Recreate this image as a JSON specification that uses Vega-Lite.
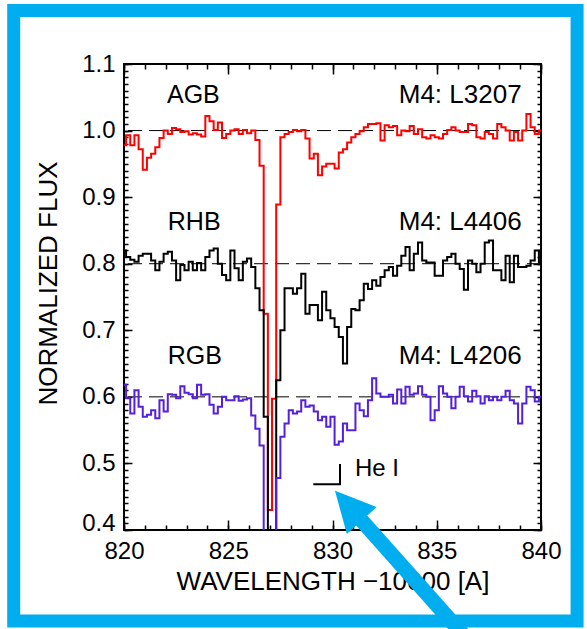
{
  "$schema": "https://vega.github.io/schema/vega-lite/v6.json",
  "width": 417,
  "height": 466,
  "autosize": {"type": "none"},
  "padding": {"left": 124, "top": 64, "right": 46, "bottom": 99},
  "background": "white",
  "config": {
    "view": {"stroke": "black", "strokeWidth": 2},
    "axis": {"grid": false, "domain": false, "labelFont": "Liberation Sans", "titleFont": "Liberation Sans", "labelColor": "black", "titleColor": "black", "tickColor": "black", "labelFontSize": 24, "titleFontSize": 26, "titleFontWeight": "normal", "tickWidth": 1.5}
  },
  "resolve": {"axis": {"x": "independent", "y": "independent"}},
  "datasets": {
    "agb": [{"w":820,"f":0.978},{"w":820.2,"f":0.993},{"w":820.4,"f":0.978},{"w":820.6,"f":0.993},{"w":820.8,"f":0.972},
{"w":821,"f":0.941},{"w":821.2,"f":0.959},{"w":821.4,"f":0.965},{"w":821.6,"f":0.975},{"w":821.8,"f":0.989},
{"w":822,"f":1.0},{"w":822.2,"f":0.995},{"w":822.4,"f":1.004},{"w":822.6,"f":1.002},{"w":822.8,"f":0.998},
{"w":823,"f":0.999},{"w":823.2,"f":0.994},{"w":823.4,"f":0.996},{"w":823.6,"f":0.994},{"w":823.8,"f":0.991},
{"w":824,"f":1.022},{"w":824.2,"f":1.014},{"w":824.4,"f":1.001},{"w":824.6,"f":1.012},{"w":824.8,"f":0.989},
{"w":825,"f":0.995},{"w":825.2,"f":1.0},{"w":825.4,"f":1.002},{"w":825.6,"f":0.995},{"w":825.8,"f":1.001},
{"w":826,"f":0.996},{"w":826.2,"f":1.0},{"w":826.4,"f":0.986},{"w":826.6,"f":0.947},{"w":826.8,"f":0.725},
{"w":827,"f":0.43},{"w":827.2,"f":0.597},{"w":827.4,"f":0.889},{"w":827.6,"f":0.99},{"w":827.8,"f":0.995},
{"w":828,"f":0.998},{"w":828.2,"f":1.001},{"w":828.4,"f":0.999},{"w":828.6,"f":1.001},{"w":828.8,"f":0.988},
{"w":829,"f":0.958},{"w":829.2,"f":0.965},{"w":829.4,"f":0.933},{"w":829.6,"f":0.946},{"w":829.8,"f":0.95},
{"w":830,"f":0.95},{"w":830.2,"f":0.943},{"w":830.4,"f":0.967},{"w":830.6,"f":0.972},{"w":830.8,"f":0.982},
{"w":831,"f":0.99},{"w":831.2,"f":0.995},{"w":831.4,"f":0.999},{"w":831.6,"f":1.005},{"w":831.8,"f":1.01},
{"w":832,"f":1.01},{"w":832.2,"f":1.011},{"w":832.4,"f":0.985},{"w":832.6,"f":1.008},{"w":832.8,"f":1.005},
{"w":833,"f":1.007},{"w":833.2,"f":0.993},{"w":833.4,"f":1.0},{"w":833.6,"f":0.999},{"w":833.8,"f":1.007},
{"w":834,"f":0.995},{"w":834.2,"f":1.002},{"w":834.4,"f":0.99},{"w":834.6,"f":0.988},{"w":834.8,"f":0.993},
{"w":835,"f":0.99},{"w":835.2,"f":0.988},{"w":835.4,"f":0.995},{"w":835.6,"f":1.001},{"w":835.8,"f":1.005},
{"w":836,"f":1.0},{"w":836.2,"f":0.998},{"w":836.4,"f":0.998},{"w":836.6,"f":1.01},{"w":836.8,"f":1.008},
{"w":837,"f":0.99},{"w":837.2,"f":0.988},{"w":837.4,"f":0.998},{"w":837.6,"f":0.995},{"w":837.8,"f":0.988},
{"w":838,"f":1.01},{"w":838.2,"f":1.005},{"w":838.4,"f":1.0},{"w":838.6,"f":0.985},{"w":838.8,"f":0.998},
{"w":839,"f":0.985},{"w":839.2,"f":1.0},{"w":839.4,"f":1.025},{"w":839.6,"f":1.005},{"w":839.8,"f":0.995},
{"w":840,"f":1.0}],
    "rhb": [{"w":820,"f":0.82},{"w":820.2,"f":0.81},{"w":820.4,"f":0.806},{"w":820.6,"f":0.803},{"w":820.8,"f":0.812},
{"w":821,"f":0.815},{"w":821.2,"f":0.815},{"w":821.4,"f":0.805},{"w":821.6,"f":0.79},{"w":821.8,"f":0.803},
{"w":822,"f":0.815},{"w":822.2,"f":0.818},{"w":822.4,"f":0.805},{"w":822.6,"f":0.775},{"w":822.8,"f":0.798},
{"w":823,"f":0.79},{"w":823.2,"f":0.803},{"w":823.4,"f":0.79},{"w":823.6,"f":0.801},{"w":823.8,"f":0.79},
{"w":824,"f":0.81},{"w":824.2,"f":0.82},{"w":824.4,"f":0.823},{"w":824.6,"f":0.8},{"w":824.8,"f":0.783},
{"w":825,"f":0.775},{"w":825.2,"f":0.82},{"w":825.4,"f":0.793},{"w":825.6,"f":0.775},{"w":825.8,"f":0.803},
{"w":826,"f":0.808},{"w":826.2,"f":0.795},{"w":826.4,"f":0.763},{"w":826.6,"f":0.73},{"w":826.8,"f":0.57},
{"w":827,"f":0.33},{"w":827.2,"f":0.35},{"w":827.4,"f":0.625},{"w":827.6,"f":0.7},{"w":827.8,"f":0.763},
{"w":828,"f":0.763},{"w":828.2,"f":0.755},{"w":828.4,"f":0.763},{"w":828.6,"f":0.785},{"w":828.8,"f":0.725},
{"w":829,"f":0.738},{"w":829.2,"f":0.738},{"w":829.4,"f":0.715},{"w":829.6,"f":0.758},{"w":829.8,"f":0.73},
{"w":830,"f":0.718},{"w":830.2,"f":0.705},{"w":830.4,"f":0.69},{"w":830.6,"f":0.65},{"w":830.8,"f":0.705},
{"w":831,"f":0.732},{"w":831.2,"f":0.73},{"w":831.4,"f":0.745},{"w":831.6,"f":0.77},{"w":831.8,"f":0.762},
{"w":832,"f":0.775},{"w":832.2,"f":0.767},{"w":832.4,"f":0.78},{"w":832.6,"f":0.79},{"w":832.8,"f":0.795},
{"w":833,"f":0.782},{"w":833.2,"f":0.797},{"w":833.4,"f":0.812},{"w":833.6,"f":0.825},{"w":833.8,"f":0.79},
{"w":834,"f":0.815},{"w":834.2,"f":0.832},{"w":834.4,"f":0.805},{"w":834.6,"f":0.802},{"w":834.8,"f":0.802},
{"w":835,"f":0.782},{"w":835.2,"f":0.782},{"w":835.4,"f":0.805},{"w":835.6,"f":0.81},{"w":835.8,"f":0.815},
{"w":836,"f":0.8},{"w":836.2,"f":0.792},{"w":836.4,"f":0.761},{"w":836.6,"f":0.805},{"w":836.8,"f":0.8},
{"w":837,"f":0.787},{"w":837.2,"f":0.8},{"w":837.4,"f":0.832},{"w":837.6,"f":0.835},{"w":837.8,"f":0.79},
{"w":838,"f":0.79},{"w":838.2,"f":0.775},{"w":838.4,"f":0.812},{"w":838.6,"f":0.772},{"w":838.8,"f":0.812},
{"w":839,"f":0.795},{"w":839.2,"f":0.795},{"w":839.4,"f":0.797},{"w":839.6,"f":0.805},{"w":839.8,"f":0.82},
{"w":840,"f":0.802}],
    "rgb": [{"w":820,"f":0.618},{"w":820.2,"f":0.598},{"w":820.4,"f":0.575},{"w":820.6,"f":0.61},{"w":820.8,"f":0.585},
{"w":821,"f":0.57},{"w":821.2,"f":0.573},{"w":821.4,"f":0.58},{"w":821.6,"f":0.568},{"w":821.8,"f":0.595},
{"w":822,"f":0.578},{"w":822.2,"f":0.604},{"w":822.4,"f":0.603},{"w":822.6,"f":0.598},{"w":822.8,"f":0.616},
{"w":823,"f":0.606},{"w":823.2,"f":0.604},{"w":823.4,"f":0.598},{"w":823.6,"f":0.618},{"w":823.8,"f":0.603},
{"w":824,"f":0.604},{"w":824.2,"f":0.588},{"w":824.4,"f":0.575},{"w":824.6,"f":0.585},{"w":824.8,"f":0.6},
{"w":825,"f":0.595},{"w":825.2,"f":0.595},{"w":825.4,"f":0.601},{"w":825.6,"f":0.594},{"w":825.8,"f":0.596},
{"w":826,"f":0.598},{"w":826.2,"f":0.572},{"w":826.4,"f":0.552},{"w":826.6,"f":0.527},{"w":826.8,"f":0.3},
{"w":827,"f":0.3},{"w":827.2,"f":0.3},{"w":827.4,"f":0.478},{"w":827.6,"f":0.54},{"w":827.8,"f":0.56},
{"w":828,"f":0.58},{"w":828.2,"f":0.575},{"w":828.4,"f":0.578},{"w":828.6,"f":0.595},{"w":828.8,"f":0.585},
{"w":829,"f":0.587},{"w":829.2,"f":0.578},{"w":829.4,"f":0.565},{"w":829.6,"f":0.57},{"w":829.8,"f":0.555},
{"w":830,"f":0.57},{"w":830.2,"f":0.528},{"w":830.4,"f":0.533},{"w":830.6,"f":0.56},{"w":830.8,"f":0.55},
{"w":831,"f":0.55},{"w":831.2,"f":0.59},{"w":831.4,"f":0.58},{"w":831.6,"f":0.571},{"w":831.8,"f":0.595},
{"w":832,"f":0.628},{"w":832.2,"f":0.605},{"w":832.4,"f":0.6},{"w":832.6,"f":0.6},{"w":832.8,"f":0.603},
{"w":833,"f":0.59},{"w":833.2,"f":0.611},{"w":833.4,"f":0.59},{"w":833.6,"f":0.615},{"w":833.8,"f":0.603},
{"w":834,"f":0.605},{"w":834.2,"f":0.616},{"w":834.4,"f":0.603},{"w":834.6,"f":0.6},{"w":834.8,"f":0.565},
{"w":835,"f":0.58},{"w":835.2,"f":0.616},{"w":835.4,"f":0.605},{"w":835.6,"f":0.6},{"w":835.8,"f":0.583},
{"w":836,"f":0.6},{"w":836.2,"f":0.615},{"w":836.4,"f":0.601},{"w":836.6,"f":0.593},{"w":836.8,"f":0.609},
{"w":837,"f":0.601},{"w":837.2,"f":0.59},{"w":837.4,"f":0.601},{"w":837.6,"f":0.595},{"w":837.8,"f":0.6},
{"w":838,"f":0.595},{"w":838.2,"f":0.6},{"w":838.4,"f":0.609},{"w":838.6,"f":0.595},{"w":838.8,"f":0.59},
{"w":839,"f":0.56},{"w":839.2,"f":0.59},{"w":839.4,"f":0.615},{"w":839.6,"f":0.61},{"w":839.8,"f":0.593},
{"w":840,"f":0.6}]
  },
  "layer": [
    {
      "data": {"values": [{"x1": 814.71, "x2": 841.73, "y1": 1.1804, "y2": 0.2633}]},
      "mark": {"type": "rect", "fill": "white", "fillOpacity": 0, "stroke": "#00aeef", "strokeWidth": 13, "clip": false},
      "encoding": {
        "x": {"field": "x1", "type": "quantitative", "scale": {"domain": [820, 840], "nice": false, "zero": false}, "axis": null},
        "x2": {"field": "x2"},
        "y": {"field": "y1", "type": "quantitative", "scale": {"domain": [0.4, 1.1], "nice": false, "zero": false}, "axis": null},
        "y2": {"field": "y2"}
      }
    },
    {
      "data": {"values": [{"f": 1.0}, {"f": 0.8}, {"f": 0.6}]},
      "mark": {"type": "rule", "strokeDash": [14, 7], "color": "black", "strokeWidth": 1},
      "encoding": {
        "y": {"field": "f", "type": "quantitative", "scale": {"domain": [0.4, 1.1], "nice": false, "zero": false}, "axis": null}
      }
    },
    {
      "data": {"name": "agb"},
      "mark": {"type": "line", "interpolate": "step", "color": "#ff0000", "strokeWidth": 2, "clip": true},
      "encoding": {
        "x": {"field": "w", "type": "quantitative", "scale": {"domain": [820, 840], "nice": false, "zero": false},
              "axis": {"orient": "bottom", "values": [820, 825, 830, 835, 840], "format": "d", "ticks": false, "labelPadding": 9, "labelFlush": false, "title": "WAVELENGTH −10000 [A]", "titlePadding": 5}},
        "y": {"field": "f", "type": "quantitative", "scale": {"domain": [0.4, 1.1], "nice": false, "zero": false},
              "axis": {"orient": "left", "values": [0.4, 0.5, 0.6, 0.7, 0.8, 0.9, 1.0, 1.1], "format": ".1f", "ticks": false, "labelPadding": 9, "labelBaseline": {"condition": {"test": "datum.value < 0.45", "value": "alphabetic"}, "value": "middle"}, "title": "NORMALIZED FLUX", "titlePadding": 20, "titleY": 219}}
      }
    },
    {
      "data": {"name": "rhb"},
      "mark": {"type": "line", "interpolate": "step", "color": "black", "strokeWidth": 2, "clip": true},
      "encoding": {
        "x": {"field": "w", "type": "quantitative", "scale": {"domain": [820, 840], "nice": false, "zero": false},
              "axis": {"orient": "bottom", "values": [820, 825, 830, 835, 840], "labels": false, "tickSize": -10, "title": null}},
        "y": {"field": "f", "type": "quantitative", "scale": {"domain": [0.4, 1.1], "nice": false, "zero": false},
              "axis": {"orient": "left", "values": [0.4, 0.5, 0.6, 0.7, 0.8, 0.9, 1.0, 1.1], "labels": false, "tickSize": -8, "title": null}}
      }
    },
    {
      "data": {"name": "rgb"},
      "mark": {"type": "line", "interpolate": "step", "color": "#5520dd", "strokeWidth": 2, "clip": true},
      "encoding": {
        "x": {"field": "w", "type": "quantitative", "scale": {"domain": [820, 840], "nice": false, "zero": false},
              "axis": {"orient": "bottom", "values": [820,821,822,823,824,825,826,827,828,829,830,831,832,833,834,835,836,837,838,839,840], "labels": false, "tickSize": -5, "title": null}},
        "y": {"field": "f", "type": "quantitative", "scale": {"domain": [0.4, 1.1], "nice": false, "zero": false},
              "axis": {"orient": "left", "values": [0.4,0.41,0.42,0.43,0.44,0.45,0.46,0.47,0.48,0.49,0.5,0.51,0.52,0.53,0.54,0.55,0.56,0.57,0.58,0.59,0.6,0.61,0.62,0.63,0.64,0.65,0.66,0.67,0.68,0.69,0.7,0.71,0.72,0.73,0.74,0.75,0.76,0.77,0.78,0.79,0.8,0.81,0.82,0.83,0.84,0.85,0.86,0.87,0.88,0.89,0.9,0.91,0.92,0.93,0.94,0.95,0.96,0.97,0.98,0.99,1.0,1.01,1.02,1.03,1.04,1.05,1.06,1.07,1.08,1.09,1.1], "labels": false, "tickSize": -4, "title": null}}
      }
    },
    {
      "data": {"values": [{"o": 1, "w": 829.08, "f": 0.4686}, {"o": 2, "w": 830.36, "f": 0.4686}, {"o": 3, "w": 830.36, "f": 0.4991}]},
      "mark": {"type": "line", "color": "black", "strokeWidth": 2},
      "encoding": {
        "x": {"field": "w", "type": "quantitative", "scale": {"domain": [820, 840], "nice": false, "zero": false},
              "axis": {"orient": "top", "values": [820, 825, 830, 835, 840], "labels": false, "tickSize": -10, "title": null}},
        "y": {"field": "f", "type": "quantitative", "scale": {"domain": [0.4, 1.1], "nice": false, "zero": false},
              "axis": {"orient": "right", "values": [0.4, 0.5, 0.6, 0.7, 0.8, 0.9, 1.0, 1.1], "labels": false, "tickSize": -8, "title": null}},
        "order": {"field": "o", "type": "quantitative"}
      }
    },
    {
      "data": {"values": [{"x": 822.06, "y": 1.0534, "t": "AGB"}, {"x": 822.1, "y": 0.8627, "t": "RHB"}, {"x": 822.1, "y": 0.6614, "t": "RGB"}]},
      "mark": {"type": "text", "align": "left", "baseline": "middle", "font": "Liberation Sans", "fontSize": 25, "color": "black"},
      "encoding": {
        "x": {"field": "x", "type": "quantitative", "scale": {"domain": [820, 840], "nice": false, "zero": false},
              "axis": {"orient": "top", "values": [820,821,822,823,824,825,826,827,828,829,830,831,832,833,834,835,836,837,838,839,840], "labels": false, "tickSize": -5, "title": null}},
        "y": {"field": "y", "type": "quantitative", "scale": {"domain": [0.4, 1.1], "nice": false, "zero": false},
              "axis": {"orient": "right", "values": [0.4,0.41,0.42,0.43,0.44,0.45,0.46,0.47,0.48,0.49,0.5,0.51,0.52,0.53,0.54,0.55,0.56,0.57,0.58,0.59,0.6,0.61,0.62,0.63,0.64,0.65,0.66,0.67,0.68,0.69,0.7,0.71,0.72,0.73,0.74,0.75,0.76,0.77,0.78,0.79,0.8,0.81,0.82,0.83,0.84,0.85,0.86,0.87,0.88,0.89,0.9,0.91,0.92,0.93,0.94,0.95,0.96,0.97,0.98,0.99,1.0,1.01,1.02,1.03,1.04,1.05,1.06,1.07,1.08,1.09,1.1], "labels": false, "tickSize": -4, "title": null}},
        "text": {"field": "t"}
      }
    },
    {
      "data": {"values": [{"x": 831.08, "y": 0.4916, "t": "He I"}]},
      "mark": {"type": "text", "align": "left", "baseline": "middle", "font": "Liberation Sans", "fontSize": 24, "color": "black"},
      "encoding": {
        "x": {"field": "x", "type": "quantitative", "scale": {"domain": [820, 840], "nice": false, "zero": false}, "axis": null},
        "y": {"field": "y", "type": "quantitative", "scale": {"domain": [0.4, 1.1], "nice": false, "zero": false}, "axis": null},
        "text": {"field": "t"}
      }
    },
    {
      "data": {"values": [{"x": 839.07, "y": 1.0534, "t": "M4: L3207"}, {"x": 839.07, "y": 0.8627, "t": "M4: L4406"}, {"x": 839.07, "y": 0.6614, "t": "M4: L4206"}]},
      "mark": {"type": "text", "align": "right", "baseline": "middle", "font": "Liberation Sans", "fontSize": 26, "color": "black"},
      "encoding": {
        "x": {"field": "x", "type": "quantitative", "scale": {"domain": [820, 840], "nice": false, "zero": false}, "axis": null},
        "y": {"field": "y", "type": "quantitative", "scale": {"domain": [0.4, 1.1], "nice": false, "zero": false}, "axis": null},
        "text": {"field": "t"}
      }
    },
    {
      "data": {"values": [{"x1": 830.76, "y1": 0.4366, "x2": 836.5, "y2": 0.2347}]},
      "mark": {"type": "rule", "color": "#00aeef", "strokeWidth": 15, "strokeCap": "butt", "clip": false},
      "encoding": {
        "x": {"field": "x1", "type": "quantitative", "scale": {"domain": [820, 840], "nice": false, "zero": false}, "axis": null},
        "y": {"field": "y1", "type": "quantitative", "scale": {"domain": [0.4, 1.1], "nice": false, "zero": false}, "axis": null},
        "x2": {"field": "x2"},
        "y2": {"field": "y2"}
      }
    },
    {
      "data": {"values": [{"x": 830.76, "y": 0.4366}]},
      "mark": {"type": "point", "shape": "M0,-1L-1,1L1,1Z", "size": 1600, "angle": 318, "filled": true, "color": "#00aeef", "opacity": 1, "clip": false},
      "encoding": {
        "x": {"field": "x", "type": "quantitative", "scale": {"domain": [820, 840], "nice": false, "zero": false}, "axis": null},
        "y": {"field": "y", "type": "quantitative", "scale": {"domain": [0.4, 1.1], "nice": false, "zero": false}, "axis": null}
      }
    }
  ]
}
